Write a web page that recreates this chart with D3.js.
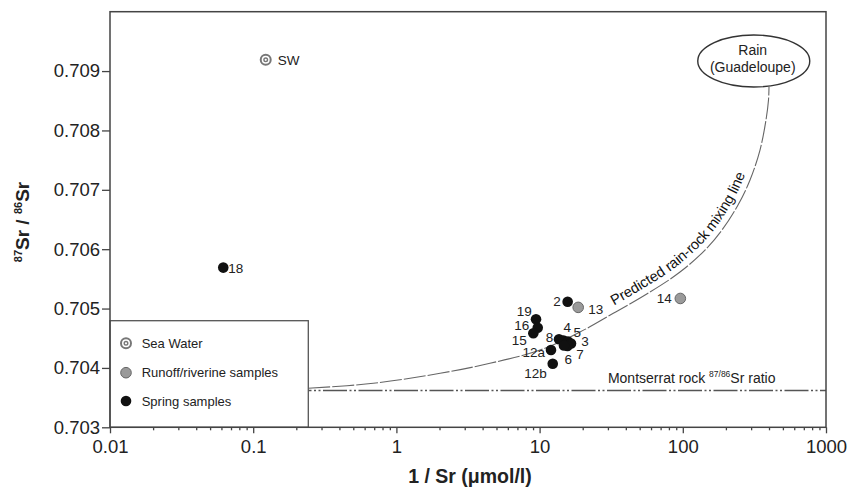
<!DOCTYPE html>
<html>
<head>
<meta charset="utf-8">
<script src="https://cdn.jsdelivr.net/npm/d3@7"></script>
<style>
  body { margin: 0; background: #fff; }
  svg { display: block; font-family: "Liberation Sans", Arial, sans-serif; }
</style>
</head>
<body>
<svg id="chart" width="862" height="490"></svg>
<script>
// ---------------- DATA ----------------
const xTicks = [0.01, 0.1, 1, 10, 100, 1000];
const xTickLabels = ["0.01", "0.1", "1", "10", "100", "1000"];
const yTicks = [0.703, 0.704, 0.705, 0.706, 0.707, 0.708, 0.709];
const yTickLabels = ["0.703", "0.704", "0.705", "0.706", "0.707", "0.708", "0.709"];

const seaWater = [{ id: "SW", x: 0.1223, y: 0.70919 }];
const runoff = [
  { id: "13", x: 18.6, y: 0.70502 },
  { id: "14", x: 96.1, y: 0.70517 }
];
const springs = [
  { id: "18",  x: 0.0618, y: 0.70569 },
  { id: "2",   x: 15.7,  y: 0.705115 },
  { id: "19",  x: 9.44,  y: 0.704819 },
  { id: "16",  x: 9.70,  y: 0.704677 },
  { id: "15",  x: 9.04,  y: 0.704583 },
  { id: "8",   x: 13.66, y: 0.704482 },
  { id: "4",   x: 14.69, y: 0.704462 },
  { id: "5",   x: 15.79, y: 0.704445 },
  { id: "3",   x: 16.57, y: 0.704411 },
  { id: "7",   x: 15.66, y: 0.704369 },
  { id: "6",   x: 14.80, y: 0.704378 },
  { id: "12a", x: 12.01, y: 0.704302 },
  { id: "12b", x: 12.35, y: 0.704071 }
];

// predicted rain-rock mixing line
const mixingX = [0.2425, 0.690, 2.02, 4.50, 10.07, 19.15, 32.7, 56.0, 95.6, 142.9, 187.8, 243, 294.7, 346, 381, 396.7, 399.9];
const mixingY = [0.703657, 0.703741, 0.703909, 0.704078, 0.704302, 0.704605, 0.704920, 0.705245, 0.705615, 0.705986, 0.706323, 0.706744, 0.707165, 0.707670, 0.708175, 0.708512, 0.708731];

const rockRatio = 0.70362;
const rockLabelX = 30;
const rainEndMember = { x: 313, y: 0.70917 };
const legendItems = ["Sea Water", "Runoff/riverine samples", "Spring samples"];

// label placement (dx, dy, anchor) relative to each symbol
const labelPlacement = {
  "SW": [12, 5, "start"], "18": [5, 5, "start"], "14": [-8.5, 5, "end"],
  "13": [10, 7, "start"], "2": [-7, 4, "end"], "19": [-4.3, -3, "end"],
  "16": [-8.4, 2.3, "end"], "15": [-6.6, 11.4, "end"], "8": [-5.7, 3, "end"],
  "4": [3.8, -8.8, "middle"], "5": [9.3, -4.8, "middle"], "3": [14, 2.2, "middle"],
  "7": [12.5, 13, "middle"], "6": [4.3, 18.8, "middle"],
  "12a": [-6, 6.7, "end"], "12b": [-6, 14, "end"]
};

// ---------------- LAYOUT ----------------
const L = 110, R = 826, T = 11.7, B = 427.3;
const svg = d3.select("#chart");
const x = d3.scaleLog().domain([0.01, 1000]).range([L, R]);
const y = d3.scaleLinear().domain([0.703, 0.710]).range([B, T]);
const ink = "#222";

// Montserrat rock line
svg.append("line")
  .attr("x1", x(0.01)).attr("x2", x(1000))
  .attr("y1", y(rockRatio)).attr("y2", y(rockRatio))
  .attr("stroke", "#555").attr("stroke-width", 1.4)
  .attr("stroke-dasharray", "24,2.5,2,2.5,2,2.5");

const rl = svg.append("text")
  .attr("x", x(rockLabelX)).attr("y", y(rockRatio) - 7)
  .attr("font-size", 14).attr("fill", ink);
rl.append("tspan").text("Montserrat rock ");
rl.append("tspan").attr("font-size", 8.5).attr("dy", -6).text("87/86");
rl.append("tspan").attr("dy", 6).text("Sr ratio");

// mixing curve
const mixData = mixingX.map((v, i) => [v, mixingY[i]]);
const line = d3.line().x(d => x(d[0])).y(d => y(d[1])).curve(d3.curveCatmullRom.alpha(0.5));
const mixPath = svg.append("path")
  .attr("id", "mixPath")
  .attr("d", line(mixData))
  .attr("fill", "none").attr("stroke", "#666").attr("stroke-width", 1.1)
  .attr("stroke-dasharray", "22,2");

// text along the curve
const node = mixPath.node();
const total = node.getTotalLength();
let startLen = 0;
for (let l = 0; l < total; l += 1) {
  if (node.getPointAtLength(l).x >= 617) { startLen = l; break; }
}
svg.append("text")
  .attr("font-size", 14.5).attr("fill", "#111").attr("dy", -6.5)
  .append("textPath")
  .attr("href", "#mixPath")
  .attr("startOffset", startLen)
  .text("Predicted rain-rock mixing line");

// legend box
const legX1 = 308.3, legY1 = 320.7;
svg.append("rect")
  .attr("x", L).attr("y", legY1)
  .attr("width", legX1 - L).attr("height", B - legY1)
  .attr("fill", "#fff").attr("stroke", "#555").attr("stroke-width", 1.3);

function drawSymbol(g, kind) {
  if (kind === 0) {
    g.append("circle").attr("r", 5).attr("fill", "#fff").attr("stroke", "#777").attr("stroke-width", 2);
    g.append("circle").attr("r", 1.8).attr("fill", "#fff").attr("stroke", "#777").attr("stroke-width", 1.4);
  } else if (kind === 1) {
    g.append("circle").attr("r", 5.3).attr("fill", "#9a9a9a").attr("stroke", "#666").attr("stroke-width", 1);
  } else {
    g.append("circle").attr("r", 5.3).attr("fill", "#111");
  }
}

const legYs = [343.3, 372.7, 401];
legendItems.forEach((t, i) => {
  const g = svg.append("g").attr("transform", `translate(126,${legYs[i]})`);
  drawSymbol(g, i);
  svg.append("text").attr("x", 141.7).attr("y", legYs[i] + 4.6)
    .attr("font-size", 13).attr("fill", ink).text(t);
});

// points
const groups = [seaWater, runoff, springs];
groups.forEach((arr, k) => {
  arr.forEach(d => {
    const g = svg.append("g").attr("transform", `translate(${x(d.x)},${y(d.y)})`);
    drawSymbol(g, k);
  });
});
groups.forEach(arr => {
  arr.forEach(d => {
    const p = labelPlacement[d.id];
    svg.append("text")
      .attr("x", x(d.x) + p[0]).attr("y", y(d.y) + p[1])
      .attr("text-anchor", p[2])
      .attr("font-size", 13.5).attr("fill", ink)
      .text(d.id);
  });
});

// Rain end member
const rx = x(rainEndMember.x), ry = y(rainEndMember.y);
svg.append("ellipse").attr("cx", rx).attr("cy", ry).attr("rx", 56).attr("ry", 26)
  .attr("fill", "#fff").attr("stroke", "#333").attr("stroke-width", 1.4);
svg.append("text").attr("x", rx - 1).attr("y", ry - 6).attr("text-anchor", "middle")
  .attr("font-size", 14).attr("fill", ink).text("Rain");
svg.append("text").attr("x", rx - 1).attr("y", ry + 11).attr("text-anchor", "middle")
  .attr("font-size", 14).attr("fill", ink).text("(Guadeloupe)");

// frame
svg.append("rect").attr("x", L).attr("y", T).attr("width", R - L).attr("height", B - T)
  .attr("fill", "none").attr("stroke", "#444").attr("stroke-width", 1.5);

// axes
const minorTicks = [];
xTicks.slice(0, -1).forEach(d => { for (let k = 2; k <= 9; k++) minorTicks.push(d * k); });

const gx = svg.append("g").attr("transform", `translate(0,${B})`)
  .call(d3.axisBottom(x).tickValues(xTicks).tickFormat((d, i) => xTickLabels[i]).tickSize(6).tickPadding(7));
const gxm = svg.append("g").attr("transform", `translate(0,${B})`)
  .call(d3.axisBottom(x).tickValues(minorTicks).tickFormat("").tickSize(3));
const gy = svg.append("g").attr("transform", `translate(${L},0)`)
  .call(d3.axisLeft(y).tickValues(yTicks).tickFormat((d, i) => yTickLabels[i]).tickSize(8).tickPadding(2));

[gx, gxm, gy].forEach(g => {
  g.select(".domain").remove();
  g.selectAll("line").attr("stroke", "#444").attr("stroke-width", 1.3);
  g.selectAll("text").attr("font-size", 18.5).attr("fill", ink)
    .attr("font-family", "\"Liberation Sans\", Arial, sans-serif");
});

// axis titles
svg.append("text").attr("x", 470).attr("y", 483).attr("text-anchor", "middle")
  .attr("font-size", 19.5).attr("font-weight", "bold").attr("fill", ink)
  .text("1 / Sr (\u03bcmol/l)");

const yt = svg.append("text").attr("transform", "translate(29,222) rotate(-90)")
  .attr("text-anchor", "middle").attr("font-size", 19).attr("font-weight", "bold").attr("fill", ink);
yt.append("tspan").attr("font-size", 11).attr("dy", -7).text("87");
yt.append("tspan").attr("dy", 7).text("Sr / ");
yt.append("tspan").attr("font-size", 11).attr("dy", -7).text("86");
yt.append("tspan").attr("dy", 7).text("Sr");
</script>
</body>
</html>
